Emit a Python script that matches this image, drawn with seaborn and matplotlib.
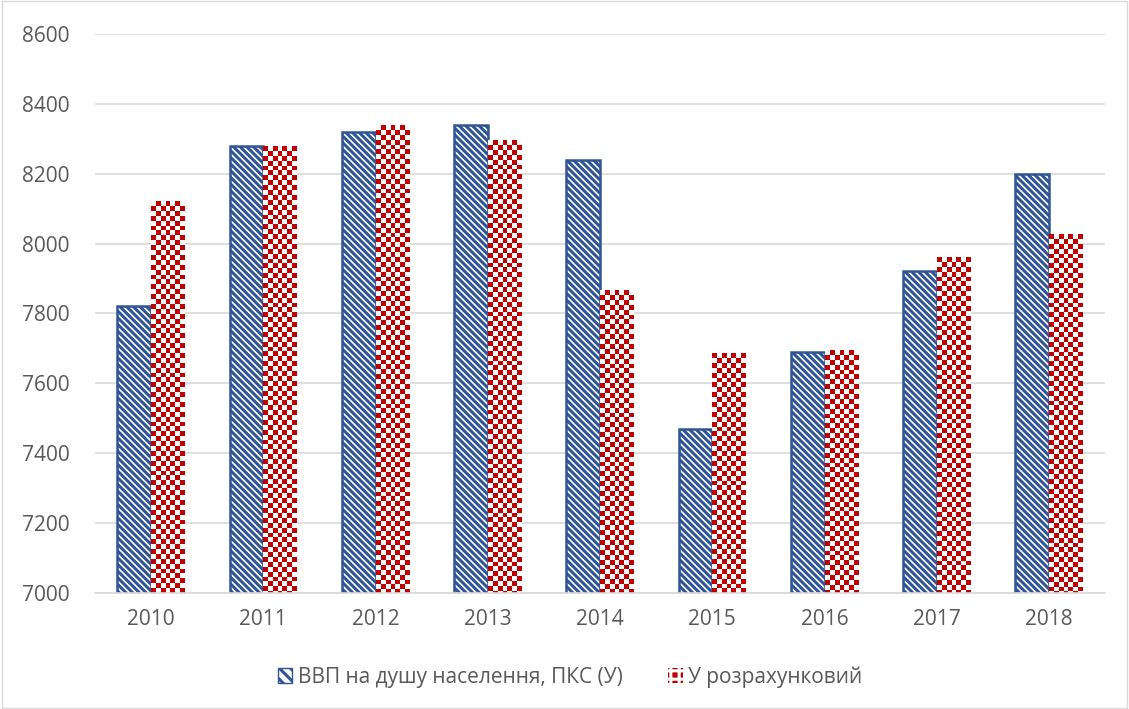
import matplotlib
matplotlib.use("Agg")
import matplotlib.pyplot as plt
import seaborn as sns
import pandas as pd
import numpy as np
from matplotlib.patches import Rectangle
from matplotlib.colors import ListedColormap

years = ["2010", "2011", "2012", "2013", "2014", "2015", "2016", "2017", "2018"]
gdp_actual = [7820, 8280, 8320, 8340, 8240, 7470, 7690, 7920, 8200]
gdp_model = [8120, 8280, 8340, 8295, 7865, 7685, 7695, 7960, 8027]
series_names = ["ВВП на душу населення, ПКС (У)", "У розрахунковий"]

df = pd.DataFrame({
    "year": years * 2,
    "value": gdp_actual + gdp_model,
    "series": [series_names[0]] * len(years) + [series_names[1]] * len(years),
})

sns.set_theme(style="white")
plt.rcParams["font.family"] = ["Open Sans", "DejaVu Sans"]
plt.rcParams["hatch.linewidth"] = 2.2

fig = plt.figure(figsize=(11.29, 7.09), dpi=100)
ax = fig.add_axes([0.084, 0.164, 0.895, 0.788])

blue = "#2F5597"
red = "#C00000"

sns.barplot(data=df, x="year", y="value", hue="series", ax=ax,
            width=0.6, gap=0, legend=False, palette=["white", red],
            saturation=1)

ax.set_ylim(7000, 8600)
xlim = ax.get_xlim()

for bar in ax.containers[0]:
    bar.set_facecolor("white")
    bar.set_edgecolor(blue)
    bar.set_hatch("\\\\\\\\\\")
    bar.set_linewidth(1.8)

# checkerboard texture laid over the second series
checker_cmap = ListedColormap([red, "white"])
cell_x = 0.3 / 7          # cell width in category units
cell_y = 14.0             # cell height in data units
for bar in ax.containers[1]:
    x0, y0 = bar.get_x(), bar.get_y()
    w, h = bar.get_width(), bar.get_height()
    ncols = max(1, int(round(w / cell_x)))
    nrows = max(1, int(round(h / cell_y)))
    grid = (np.add.outer(np.arange(nrows), np.arange(ncols)) % 2).astype(float)
    ax.imshow(grid, cmap=checker_cmap, vmin=0, vmax=1, origin="lower",
              extent=(x0, x0 + w, y0, y0 + h), aspect="auto",
              interpolation="nearest", zorder=bar.get_zorder() + 0.1)
    bar.set_edgecolor(red)
    bar.set_linewidth(0)

ax.set_xlim(xlim)
ax.set_ylim(7000, 8600)
ax.set_yticks(range(7000, 8601, 200))
ax.set_xlabel("")
ax.set_ylabel("")
ax.grid(axis="y", color="#D9D9D9", linewidth=1.2)
ax.set_axisbelow(True)
for side in ["top", "right", "left"]:
    ax.spines[side].set_visible(False)
ax.spines["bottom"].set_color("#D9D9D9")
ax.spines["bottom"].set_linewidth(1.2)
ax.tick_params(axis="both", colors="#595959", labelsize=15, length=0)
ax.tick_params(axis="x", pad=12)
ax.tick_params(axis="y", pad=18)

h1 = Rectangle((0, 0), 1, 1, facecolor="white", edgecolor=blue, hatch="\\\\\\", linewidth=1.0)
h2 = Rectangle((0, 0), 1, 1, facecolor=red, edgecolor="white", hatch="++", linewidth=0)
leg = fig.legend([h1, h2], series_names, loc="center", bbox_to_anchor=(0.505, 0.045),
                 ncol=2, frameon=False, fontsize=15, handlelength=0.7, handleheight=0.7,
                 handletextpad=0.25, columnspacing=2.2)
for t in leg.get_texts():
    t.set_color("#595959")

fig.patches.append(Rectangle((0.002, 0.002), 0.996, 0.996, transform=fig.transFigure,
                             fill=False, edgecolor="#D9D9D9", linewidth=1.0))

fig.savefig("out.png", dpi=100)
